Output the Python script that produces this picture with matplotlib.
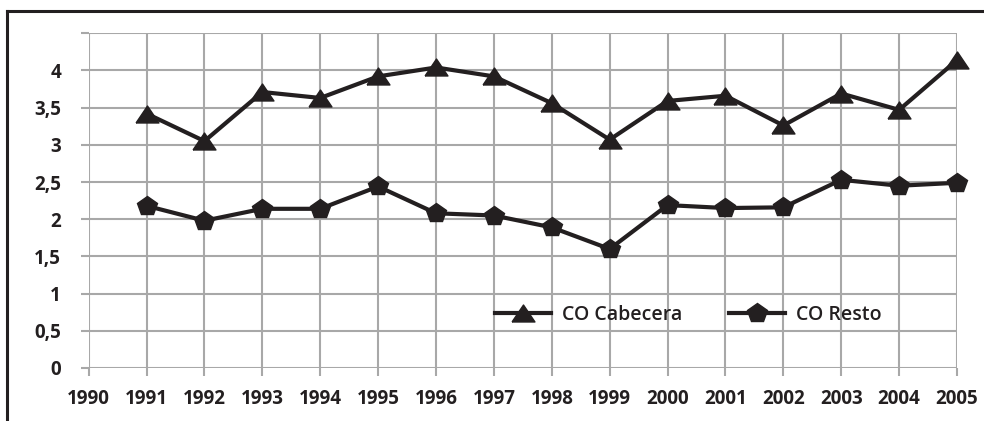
import matplotlib
matplotlib.use("Agg")
import matplotlib.pyplot as plt
from matplotlib.lines import Line2D

# valores
years = [1991, 1992, 1993, 1994, 1995, 1996, 1997, 1998,
         1999, 2000, 2001, 2002, 2003, 2004, 2005]
cabecera = [3.42, 3.05, 3.71, 3.63, 3.92, 4.04, 3.92, 3.56,
            3.07, 3.59, 3.66, 3.26, 3.69, 3.47, 4.14]
resto = [2.18, 1.98, 2.14, 2.14, 2.44, 2.08, 2.05, 1.89,
         1.60, 2.19, 2.15, 2.16, 2.53, 2.45, 2.49]
xticks = list(range(1990, 2006))
yticks = [0, 0.5, 1, 1.5, 2, 2.5, 3, 3.5, 4]
ytick_labels = ['0', '0,5', '1', '1,5', '2', '2,5', '3', '3,5', '4']

ink = '#231f20'
grid = '#a8a8a8'

plt.rcParams['font.family'] = ['Open Sans', 'DejaVu Sans']

fig = plt.figure(figsize=(9.84, 4.21), dpi=100)
ax = fig.add_axes([0.0901, 0.1259, 0.9726 - 0.0901, 0.921 - 0.1259])

# triangulo algo achatado
tri = [(-1, -0.74), (1, -0.74), (0, 0.74), (-1, -0.74)]

ax.plot(years, cabecera, color=ink, lw=3, marker=tri, ms=16.5,
        mfc=ink, mec=ink, label='CO Cabecera', zorder=3, clip_on=False)
ax.plot(years, resto, color=ink, lw=3, marker='p', ms=15,
        mfc=ink, mec=ink, label='CO Resto', zorder=3, clip_on=False)

ax.set_xlim(1990, 2005)
ax.set_ylim(0, 4.5)
ax.set_xticks(xticks)
ax.set_yticks(yticks)
ax.set_yticklabels(ytick_labels)
ax.set_yticks([4.5], minor=True)
ax.grid(True, which='both', color=grid, lw=1.5)
ax.set_axisbelow(True)
for s in ax.spines.values():
    s.set_visible(False)
ax.tick_params(axis='x', length=6, width=1.5, color=grid, pad=9,
               labelsize=13.5, labelcolor=ink)
ax.tick_params(axis='y', length=6, width=1.5, color=grid, pad=14,
               labelsize=13.5, labelcolor=ink)
ax.tick_params(axis='y', which='minor', length=6, width=1.5, color=grid)
for lab in ax.get_xticklabels() + ax.get_yticklabels():
    lab.set_fontweight('bold')

leg = ax.legend(ncol=2, frameon=False, loc='center left',
                bbox_to_anchor=(495 / 984, 1 - 315 / 421),
                bbox_transform=fig.transFigure, borderpad=0, borderaxespad=0,
                handlelength=2.9, handletextpad=0.55, columnspacing=2.4,
                prop={'size': 14, 'weight': 'semibold'})
for t in leg.get_texts():
    t.set_color(ink)

# marco del recuadro (solo izquierda y arriba)
fig.add_artist(Line2D([7 / 984, 7 / 984], [0, 1 - 11 / 421],
                      color=ink, lw=2.2, transform=fig.transFigure))
fig.add_artist(Line2D([7 / 984, 1], [1 - 11 / 421, 1 - 11 / 421],
                      color=ink, lw=2.2, transform=fig.transFigure))

fig.savefig('out.png', dpi=100)
